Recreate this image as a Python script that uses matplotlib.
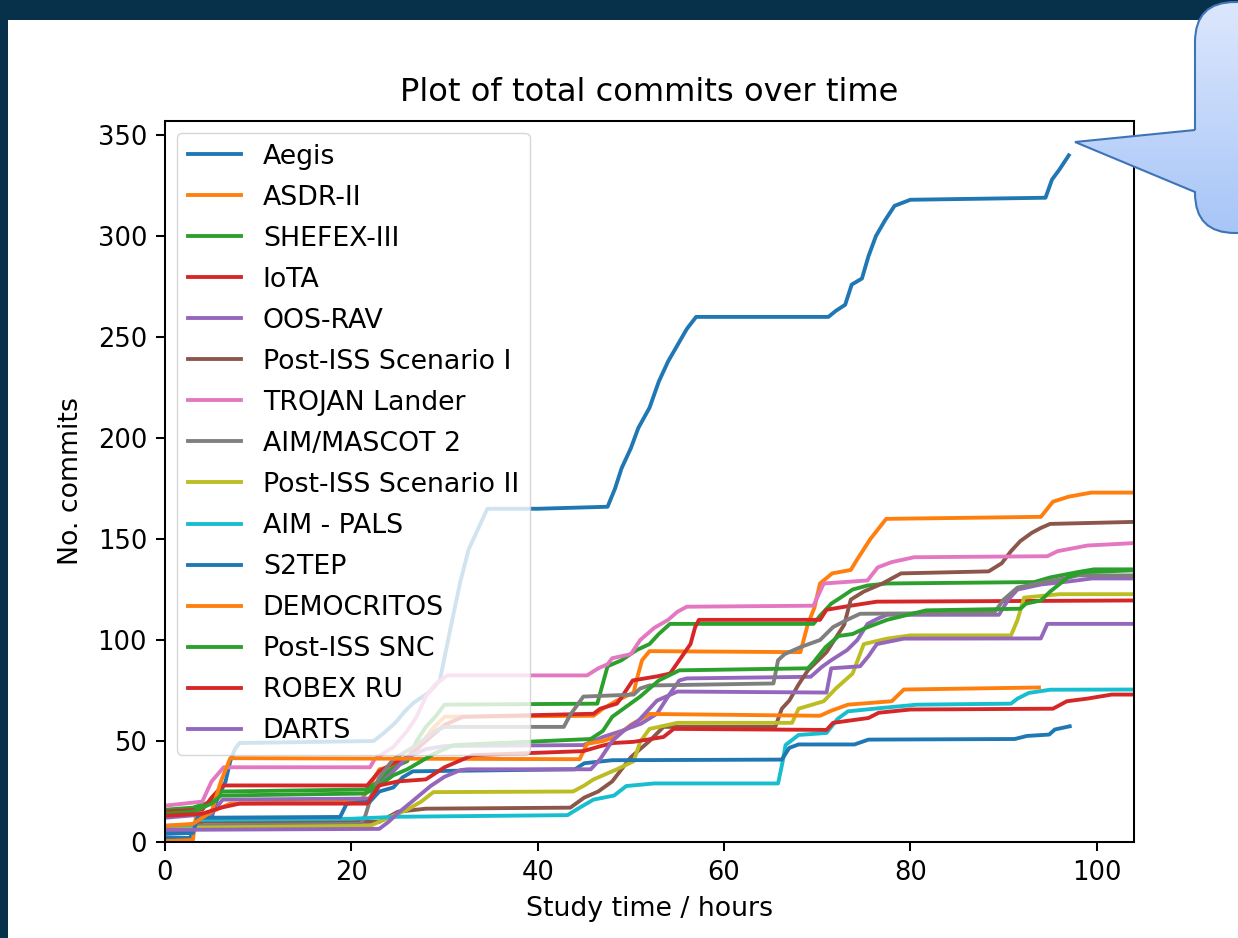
import numpy as np
import matplotlib
matplotlib.use("Agg")
import matplotlib.pyplot as plt
from matplotlib.path import Path
from matplotlib.patches import PathPatch, Rectangle

# ---------------- data (hours, cumulative commits) ----------------
names = ["Aegis", "ASDR-II", "SHEFEX-III", "IoTA", "OOS-RAV",
         "Post-ISS Scenario I", "TROJAN Lander", "AIM/MASCOT 2",
         "Post-ISS Scenario II", "AIM - PALS", "S2TEP", "DEMOCRITOS",
         "Post-ISS SNC", "ROBEX RU", "DARTS"]

aegis_t = [0, 2.7, 3.2, 5, 5.5, 6.5, 7, 7.5, 8, 22.4, 23.5, 24.7, 25.8, 26.7, 28.3, 29.5, 30.6, 31.7,
           32.6, 33.5, 34.6, 40, 47.5, 48.3, 49, 50, 50.8, 52, 53, 54, 55, 56, 57, 71.2, 72, 73, 73.7,
           74.8, 75.5, 76.3, 77.3, 78.3, 80, 94.5, 95.2, 96, 97]
aegis_c = [2, 2, 9, 12, 20, 30, 40, 46, 49, 50, 54, 59, 65, 69, 74, 80, 105, 129,
           145, 154, 165, 165, 166, 175, 185, 195, 205, 215, 228, 238, 246, 254, 260, 260, 263, 266, 276,
           279, 290, 300, 308, 315, 318, 319, 328, 333, 340]

asdr_t = [0, 3, 3.3, 5, 7, 21, 22, 23, 25, 27, 28.5, 30, 46, 47, 48.5, 50.3, 50.6, 51.2, 52, 68.2,
          69, 69.7, 70.3, 71.6, 73.6, 74.3, 75, 75.7, 77.4, 94, 95.3, 97, 99.4, 104]
asdr_c = [0.5, 1, 12, 15, 19, 20, 28, 36, 38, 45, 55, 62, 62.5, 66, 70, 74, 80, 90, 94.5, 94,
          108, 116, 128, 133, 134.7, 140, 145, 150, 160, 161, 168.5, 171, 173, 173]

shefex_t = [0, 3, 5, 6, 21.5, 23, 24, 25, 26, 27, 28, 29, 30, 46.4, 47.5, 49, 50.6, 52, 53, 54.2,
            69.6, 70.3, 71.5, 72.5, 73.8, 75.4, 77.5, 93.3, 95, 97.9, 99.7, 104]
shefex_c = [16, 17, 20, 25, 26, 30, 35, 38, 40, 50, 57, 62, 68, 68.5, 87, 90, 95, 98, 103, 108,
            108, 112, 118, 121, 125, 127, 128, 128.7, 131, 133.6, 135, 135]

iota_t = [0, 4, 5, 6.2, 21.7, 23, 24.5, 26, 28, 30, 32, 46, 46.7, 48.5, 48.9, 50.2, 52.8, 54.2,
          55.2, 56.4, 56.9, 57.3, 70.3, 71, 73.6, 76.4, 104]
iota_c = [15, 16, 22, 28, 28, 35, 39, 42, 50, 58, 62, 63.5, 66, 68.5, 71, 80, 82, 83.4,
          90, 98, 106.4, 110, 110, 115, 117, 119, 119.6]

oosrav_t = [0, 5, 6.2, 21.9, 23, 24.5, 26, 28, 30, 44.9, 47, 49, 51.1, 52.8, 54.2, 55.2, 56,
            69.3, 70.5, 71.5, 73.2, 74.3, 75.4, 76.5, 77.5, 89.5, 90.5, 91.5, 94, 97, 99.5, 104]
oosrav_c = [12, 14, 21, 21.5, 28, 35, 42, 46, 47.5, 48, 52, 55, 58.6, 63.5, 73.5, 80, 81,
            81.8, 86.7, 90, 95, 100, 108, 110.6, 112.5, 112.5, 120, 125, 127.5, 129, 130.5, 130.5]

postiss1_t = [0, 3, 4, 23, 25, 28, 43.5, 45, 46.5, 48, 50, 52, 53.5, 65.5, 66.2, 67, 68, 69, 71,
              72.9, 73.6, 75, 77, 79, 88.4, 89.8, 90.8, 91.8, 93, 94, 95, 104]
postiss1_c = [5, 6, 10, 10, 15, 16.5, 17, 22, 25, 30, 42, 50, 57, 57, 66, 70, 78, 85, 94,
              107.6, 120, 124, 128, 133, 134, 138, 144, 149, 153, 155.5, 157.5, 158.5]

trojan_t = [0, 4, 5, 6.3, 22, 22.5, 24.5, 26, 27, 28, 29, 30.3, 45.3, 46.5, 47.5, 48, 50, 51, 52.5,
            54, 55, 56, 69.6, 70.7, 75.4, 76.5, 78, 80.4, 94.7, 95.8, 99, 104]
trojan_c = [18, 20, 30, 37, 37, 41, 47, 55, 62, 72, 78, 82.5, 82.5, 86, 88, 91, 93, 100, 106,
            110, 114, 116.5, 117, 128, 129.5, 136, 138.6, 141, 141.5, 144, 146.8, 148]

aim_t = [0, 21, 21.5, 22.3, 23, 24.5, 27, 29, 30, 42.8, 43.5, 44.9, 50.3, 51, 52, 65.3, 65.8, 66.5,
         68.2, 70.3, 71.7, 73.2, 74.6, 89, 90, 91.5, 94.4, 96.5, 98, 104]
aim_c = [8, 9, 13, 25, 32, 41, 48, 55, 57, 57, 63, 72, 73, 76, 77.5, 78.5, 90, 93,
         96.5, 100, 106.4, 110, 113, 113.5, 120, 126, 128.7, 130.5, 132, 132]

postiss2_t = [0, 22, 24, 26, 27.5, 28.8, 43.8, 45, 46, 48.5, 50.3, 51, 52, 55, 67.3, 68, 70.7, 72,
              73.8, 75, 77.5, 80, 90.8, 91.5, 92.2, 96, 104]
postiss2_c = [7, 8, 12, 16, 20, 24.7, 25, 28, 31, 36, 40, 49.6, 56, 59, 59, 66, 69.7, 76,
              83.4, 98, 100.7, 102.3, 102.3, 110, 121, 122.7, 122.7]

pals_t = [0, 3, 3.5, 20, 25, 43.2, 44.5, 46, 48.2, 49.5, 52.5, 65.8, 66.3, 66.6, 68, 71, 72.2, 73.3,
          77, 80.7, 90.8, 91.5, 92.7, 95, 104]
pals_c = [8, 8.5, 11, 11.5, 12.5, 13.3, 17, 21, 23, 27.7, 29, 29, 40, 48, 53, 54, 61, 64.7,
          66.4, 68, 68.5, 71, 73.8, 75.4, 75.5]

s2tep_t = [0, 3, 3.5, 18.8, 19.5, 22, 23, 24.5, 25.5, 26.6, 44, 45, 48, 66.2, 67, 68, 74, 75.5,
           91.2, 92.5, 94.9, 95.5, 97.1]
s2tep_c = [4, 4.5, 12, 12.4, 19, 20, 25, 27, 32, 35, 36, 39, 40.5, 40.8, 46.6, 48.3, 48.3, 50.7,
           51, 52.5, 53.2, 55.7, 57.3]

democ_t = [0, 3, 5, 6, 7, 44.5, 45.3, 47, 48.5, 50, 52, 70.3, 71.5, 73.3, 78, 79.3, 93.8]
democ_c = [8, 9, 15, 30, 41.5, 41, 48.6, 50, 52.4, 58, 63.4, 62.5, 65, 68, 69.7, 75.5, 76.5]

snc_t = [0, 3, 5, 6, 21.5, 23, 24.5, 26, 27.5, 29, 31, 45.7, 47, 48, 49.8, 51, 53, 55.2, 69,
         69.6, 70.9, 72.3, 73.8, 75.2, 77.5, 81.7, 91.8, 92.4, 94, 95, 96.9, 98.5, 104]
snc_c = [14, 15, 19, 23, 24, 28, 33, 36, 40, 44, 48, 51, 55, 62, 68, 72, 80, 85, 86,
         89, 96.5, 102, 103, 106, 110, 114.7, 115.5, 118, 119.6, 124, 131, 133.6, 134.5]

robex_t = [0, 4, 6, 8, 21.7, 23, 25, 28, 30, 33, 44.9, 46.7, 48.1, 50.3, 53.5, 54.6, 71, 71.7,
           75.5, 76.6, 80, 95.3, 96.8, 99, 101.6, 104]
robex_c = [13, 14, 17, 19, 19, 28, 30, 31, 37, 43, 45, 47.4, 49, 49.6, 52, 56, 55.5, 59,
           61.4, 64, 65.6, 66, 69.7, 71, 73, 73]

darts_t = [0, 23, 24, 25, 26.5, 28.5, 30, 31.7, 32.5, 44.5, 45.7, 46.7, 48, 49.2, 50.8, 51.8,
           52.8, 55, 71, 71.5, 74.6, 75.5, 76.4, 79.3, 94, 94.7, 104]
darts_c = [6, 6.5, 10, 14.3, 20, 27.7, 32.3, 35.6, 36, 36, 36, 41, 50, 55, 60, 65,
           70, 74.5, 74, 86, 87, 92, 98, 100.7, 100.8, 108, 108]

series_t = [aegis_t, asdr_t, shefex_t, iota_t, oosrav_t, postiss1_t, trojan_t, aim_t,
            postiss2_t, pals_t, s2tep_t, democ_t, snc_t, robex_t, darts_t]
series_c = [aegis_c, asdr_c, shefex_c, iota_c, oosrav_c, postiss1_c, trojan_c, aim_c,
            postiss2_c, pals_c, s2tep_c, democ_c, snc_c, robex_c, darts_c]

title = "Plot of total commits over time"
xlabel = "Study time / hours"
ylabel = "No. commits"

# ---------------- figure ----------------
W, H = 1238, 938
S = 1.85   # scale of ticks / lines relative to default matplotlib sizes
ST = 1.93  # scale of title, labels, legend text
fig = plt.figure(figsize=(W / 100, H / 100), dpi=100)
fig.patch.set_facecolor("#07304a")
# white slide area
fig.patches.append(Rectangle((8 / W, 0), 1, (H - 20) / H, transform=fig.transFigure,
                             facecolor="white", edgecolor="none", zorder=-10))

ax = fig.add_axes([165 / W, (H - 842) / H, (1134 - 165) / W, (842 - 121) / H])
colors = plt.rcParams["axes.prop_cycle"].by_key()["color"]
for i, (n, t, c) in enumerate(zip(names, series_t, series_c)):
    ax.plot(t, c, label=n, color=colors[i % 10], lw=1.5 * S)

ax.set_xlim(0, 104)
ax.set_ylim(0, 357)
ax.set_xticks([0, 20, 40, 60, 80, 100])
ax.set_yticks([0, 50, 100, 150, 200, 250, 300, 350])
ax.tick_params(labelsize=10 * S, width=0.8 * S, length=3.5 * S, pad=3.5 * S)
for sp in ax.spines.values():
    sp.set_linewidth(0.8 * S)
ax.set_title(title, fontsize=12 * ST, pad=6 * S + 3)
ax.set_xlabel(xlabel, fontsize=10 * ST, labelpad=4 * S)
ax.set_ylabel(ylabel, fontsize=10 * ST, labelpad=4 * S + 2)
ax.legend(loc="upper left", fontsize=10 * ST, borderaxespad=0.45, framealpha=0.8,
          labelspacing=0.56)

# ---------------- callout bubble ----------------
ov = fig.add_axes([0, 0, 1, 1], zorder=10)
ov.set_axis_off()
ov.patch.set_alpha(0)
r = 40
L, T, B, R = 1195, 2, 233, 1300
verts = [(L, 130), (L, T + r), (L, T), (L + r, T), (R, T), (R, B), (L + r, B), (L, B), (L, B - r),
         (L, 192), (1075, 142), (L, 130), (L, 130)]
codes = [Path.MOVETO, Path.LINETO, Path.CURVE3, Path.CURVE3, Path.LINETO, Path.LINETO, Path.LINETO,
         Path.CURVE3, Path.CURVE3, Path.LINETO, Path.LINETO, Path.LINETO, Path.CLOSEPOLY]
bubble = Path(verts, codes)
grad = np.linspace(0, 1, 256).reshape(-1, 1)
c_top = np.array([0.87, 0.91, 0.99])
c_bot = np.array([0.65, 0.77, 0.97])
img = c_top[None, None, :] * (1 - grad[:, :, None]) + c_bot[None, None, :] * grad[:, :, None]
im = ov.imshow(img, extent=[1070, 1238, 240, -5], aspect="auto", zorder=1)
fill_patch = PathPatch(bubble, facecolor="none", edgecolor="none")
ov.add_patch(fill_patch)
im.set_clip_path(fill_patch)
ov.add_patch(PathPatch(bubble, facecolor="none", edgecolor="#3f73b8", lw=1.5, zorder=2))
ov.set_xlim(0, W)
ov.set_ylim(H, 0)

fig.savefig("out.png", dpi=100, facecolor=fig.get_facecolor())
